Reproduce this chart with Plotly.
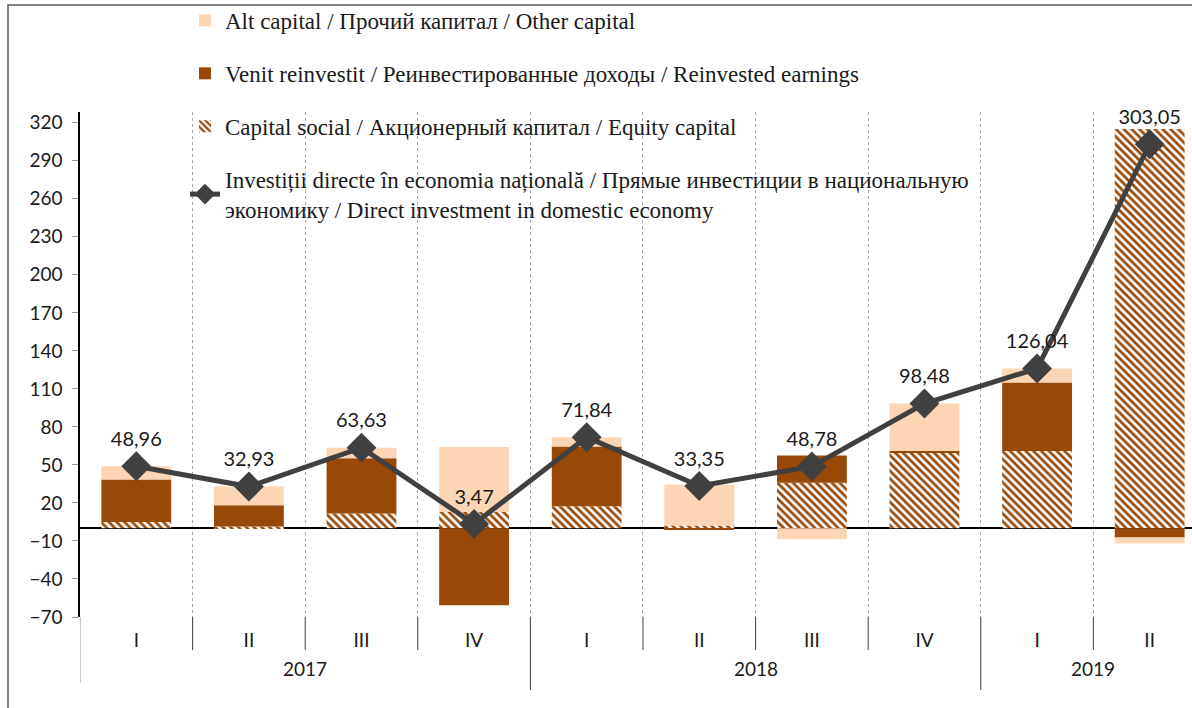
import plotly.graph_objects as go

years = ["2017"] * 4 + ["2018"] * 4 + ["2019"] * 2
quarters = ["I", "II", "III", "IV", "I", "II", "III", "IV", "I", "II"]

equity_capital = [5.0, 1.5, 11.6, 12.8, 17.3, 2.3, 36.0, 60.0, 61.0, 315.0]
reinvested_earnings = [33.5, 16.6, 43.6, -60.7, 47.3, -1.2, 21.5, 1.0, 54.0, -7.3]
other_capital = [10.46, 14.83, 8.43, 51.37, 7.24, 32.25, -8.72, 37.48, 11.04, -4.65]
direct_investment = [48.96, 32.93, 63.63, 3.47, 71.84, 33.35, 48.78, 98.48, 126.04, 303.05]

name_other = "Alt capital / Прочий капитал / Other capital"
name_reinv = "Venit reinvestit / Реинвестированные доходы / Reinvested earnings"
name_equity = "Capital social / Акционерный капитал / Equity capital"
name_line = ("Investiții directe în economia națională / Прямые инвестиции в национальную"
             "<br>экономику / Direct investment in domestic economy")

# category keys (year + quarter), shown with quarter labels and year annotations
cats = [f"{y} {q}" for y, q in zip(years, quarters)]

fig = go.Figure()
fig.add_trace(go.Bar(
    x=cats, y=equity_capital, name=name_equity, legendgroup="c", legendrank=3,
    marker=dict(color="white", line=dict(width=0),
                pattern=dict(shape="\\", fgcolor="#984807", bgcolor="white",
                             size=5.5, solidity=0.5, fillmode="replace")),
))
fig.add_trace(go.Bar(
    x=cats, y=reinvested_earnings, name=name_reinv, legendgroup="b", legendrank=2,
    marker=dict(color="#984807", line=dict(width=0)),
))
fig.add_trace(go.Bar(
    x=cats, y=other_capital, name=name_other, legendgroup="a", legendrank=1,
    marker=dict(color="#FCD5B4", line=dict(width=0)),
))
fig.add_trace(go.Scatter(
    x=cats, y=direct_investment, name=name_line, legendgroup="d", legendrank=4,
    mode="lines+markers+text",
    line=dict(color="#404040", width=5),
    marker=dict(symbol="diamond", size=23, color="#404040"),
    texttemplate="%{y:.2f}", textposition="top center",
    textfont=dict(family="Lato", size=20, color="#1a1a1a"),
    cliponaxis=False,
))

W, H = 1192, 708
L, T, B = 80, 112, 91
plot_w = W - L
plot_h = H - T - B


def px_x(p):
    return (p - L) / plot_w


def px_y(p):
    return (H - B - p) / plot_h


shapes = [
    # outer chart frame
    dict(type="rect", xref="paper", yref="paper", layer="above",
         x0=px_x(8), x1=px_x(1250), y0=px_y(5), y1=px_y(760),
         fillcolor="rgba(0,0,0,0)", line=dict(color="#595959", width=1.5)),
    # white area behind the legend (hides gridlines there)
    dict(type="rect", xref="paper", yref="paper", layer="between",
         x0=px_x(165), x1=px_x(1000), y0=px_y(218), y1=px_y(100),
         fillcolor="white", line=dict(width=0)),
]
annotations = []

# dividers under the axis between categories, longer at year boundaries
n = len(cats)
for i in range(n + 1):
    xb = i - 0.5
    if i == 0:
        bottom, col = 683, "#9a9a9a"
    elif i == n or years[i] != years[i - 1]:
        bottom, col = 690, "#404040"
    else:
        bottom, col = 650, "#404040"
    shapes.append(dict(type="line", xref="x", yref="paper", layer="above",
                       x0=xb, x1=xb, y0=0, y1=px_y(bottom),
                       line=dict(color=col, width=1)))

# year labels centred under their quarters
for yr in dict.fromkeys(years):
    idx = [i for i, v in enumerate(years) if v == yr]
    annotations.append(dict(
        x=(idx[0] + idx[-1]) / 2, xref="x", y=px_y(668), yref="paper",
        text=yr, showarrow=False, xanchor="center", yanchor="middle",
        font=dict(family="Lato", size=19, color="#1a1a1a"),
    ))

fig.update_layout(
    width=W, height=H,
    margin=dict(l=L, r=0, t=T, b=B, autoexpand=False),
    barmode="relative", bargap=0.38,
    separators=",.",
    paper_bgcolor="white", plot_bgcolor="white",
    font=dict(family="Lato", size=18, color="#1a1a1a"),
    showlegend=True,
    legend=dict(
        x=px_x(185), xanchor="left",
        y=px_y(-1), yanchor="top",
        traceorder="grouped", tracegroupgap=20,
        bgcolor="rgba(0,0,0,0)",
        font=dict(family="Liberation Serif", size=23, color="#1a1a1a"),
        itemwidth=30,
    ),
    xaxis=dict(
        type="category",
        categoryorder="array", categoryarray=cats,
        tickvals=cats, ticktext=quarters,
        range=[-0.5, 9.376],
        automargin=False,
        showgrid=True, gridcolor="#a6a6a6", griddash="3px,3px", gridwidth=1,
        tickson="boundaries",
        ticks="",
        ticklabelstandoff=10,
        tickfont=dict(family="Lato", size=19, color="#1a1a1a"),
        showline=False,
    ),
    yaxis=dict(
        range=[-70, 328.5],
        automargin=False,
        tick0=-70, dtick=30,
        showgrid=False,
        zeroline=True, zerolinecolor="black", zerolinewidth=1.5,
        showline=True, linecolor="black", linewidth=1.5,
        ticks="outside", ticklen=6, tickcolor="#9a9a9a",
        ticklabelstandoff=6,
        tickfont=dict(family="Lato", size=19, color="#1a1a1a"),
    ),
    shapes=shapes,
    annotations=annotations,
)

fig.write_html("out.html", config={"displayModeBar": False},
               post_script="document.body.style.margin='0';")
